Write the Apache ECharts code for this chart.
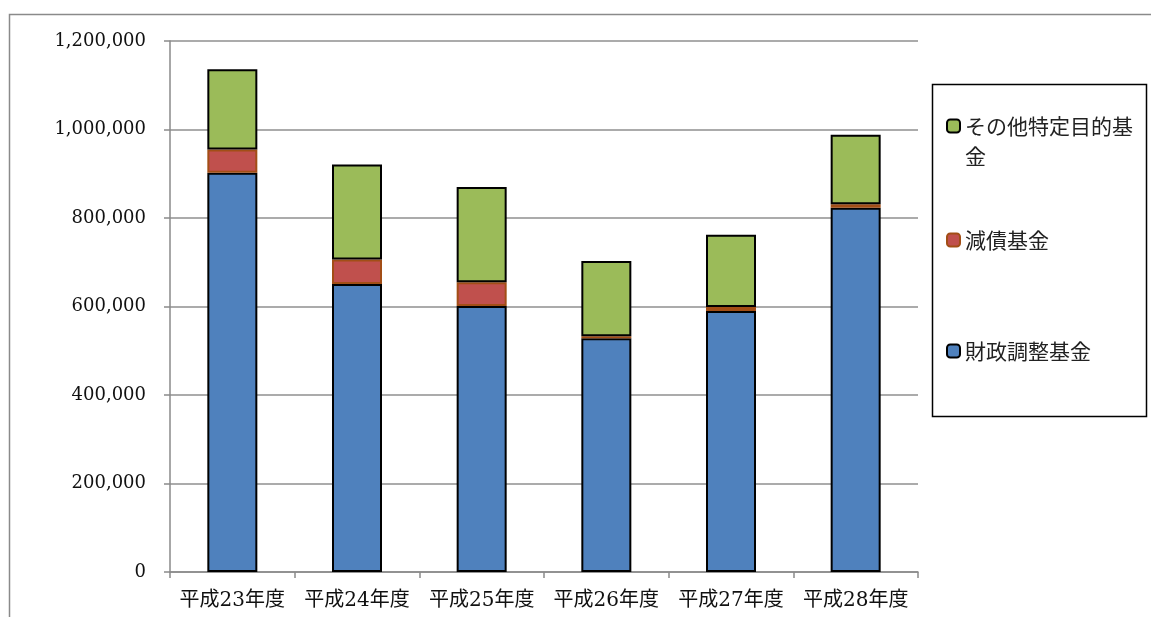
<!DOCTYPE html>
<html>
<head>
<meta charset="utf-8">
<script src="https://cdn.jsdelivr.net/npm/echarts@6/dist/echarts.min.js"></script>
<style>
  html, body { margin: 0; padding: 0; background: #fff; }
  #chart { width: 1151px; height: 617px; }
</style>
</head>
<body>
<div id="chart"></div>
<script>
// Fiscal years and fund balances (stacked bottom to top)
const categories = ['平成23年度', '平成24年度', '平成25年度', '平成26年度', '平成27年度', '平成28年度'];
const fiscalAdjustmentFund = [902000, 651000, 601000, 528000, 590000, 823000];
const debtReductionFund = [53000, 55000, 54000, 5000, 9000, 8000];
const otherSpecificFund = [181000, 215000, 215000, 170000, 163000, 157000];
const seriesNames = ['財政調整基金', '減債基金', 'その他特定目的基金'];
const yTicks = { min: 0, max: 1200000, interval: 200000 };

const chart = echarts.init(document.getElementById('chart'));

const numFont = '"DejaVu Serif", "Liberation Serif", serif';
const jpFont = '"Noto Sans CJK JP", sans-serif';

// One legend block per series so each entry sits at its own height;
// long names wrap after eight characters, with the icon beside the first line.
function legendItem(name, top) {
  return {
    data: [name],
    orient: 'vertical',
    left: 946,
    top: top,
    padding: 0,
    itemWidth: 13,
    itemHeight: 13,
    itemGap: 0,
    selectedMode: false,
    formatter: n => n.length > 8 ? ' \n' + n.slice(0, 8) + '\n' + n.slice(8) : n,
    textStyle: {
      fontFamily: jpFont,
      fontSize: 21,
      lineHeight: 30,
      color: '#222'
    }
  };
}

const option = {
  backgroundColor: '#fff',
  animation: false,
  graphic: [
    {
      type: 'polyline',
      shape: { points: [[9.5, 617], [9.5, 14.5], [1151, 14.5]] },
      style: { stroke: '#8a8a8a', lineWidth: 1.5, fill: null },
      silent: true
    },
    {
      type: 'rect',
      shape: { x: 932.5, y: 84.5, width: 214, height: 332 },
      style: { stroke: '#000', lineWidth: 1.5, fill: '#fff' },
      silent: true,
      z: -1
    }
  ],
  legend: [
    legendItem(seriesNames[2], 81),
    legendItem(seriesNames[1], 225),
    legendItem(seriesNames[0], 336)
  ],
  grid: { left: 170, right: 233, top: 41, bottom: 45, containLabel: false },
  xAxis: {
    type: 'category',
    data: categories,
    axisLine: { lineStyle: { color: '#8a8a8a', width: 1.5 } },
    axisTick: { show: true, length: 6, interval: 0, lineStyle: { color: '#8a8a8a', width: 1.5 } },
    axisLabel: { interval: 0, margin: 19, fontFamily: numFont + ', ' + jpFont, fontSize: 20, color: '#111' }
  },
  yAxis: {
    type: 'value',
    min: yTicks.min,
    max: yTicks.max,
    interval: yTicks.interval,
    axisLine: { show: true, lineStyle: { color: '#8a8a8a', width: 1.5 } },
    axisTick: { show: true, length: 6, lineStyle: { color: '#8a8a8a', width: 1.5 } },
    splitLine: { lineStyle: { color: '#8f8f8f', width: 1.5 } },
    axisLabel: {
      margin: 24,
      fontFamily: numFont,
      fontSize: 18,
      color: '#111',
      formatter: v => v.toLocaleString('en-US')
    }
  },
  series: [
    {
      name: seriesNames[0], type: 'bar', stack: 'fund', barWidth: 50,
      data: fiscalAdjustmentFund,
      itemStyle: { color: '#4F81BD', borderColor: '#000', borderWidth: 2 }
    },
    {
      name: seriesNames[1], type: 'bar', stack: 'fund', barWidth: 50,
      data: debtReductionFund,
      itemStyle: { color: '#C0504D', borderColor: '#A24E16', borderWidth: 2 }
    },
    {
      name: seriesNames[2], type: 'bar', stack: 'fund', barWidth: 50,
      data: otherSpecificFund,
      itemStyle: { color: '#9BBB59', borderColor: '#000', borderWidth: 2 }
    }
  ]
};

chart.setOption(option);
</script>
</body>
</html>
